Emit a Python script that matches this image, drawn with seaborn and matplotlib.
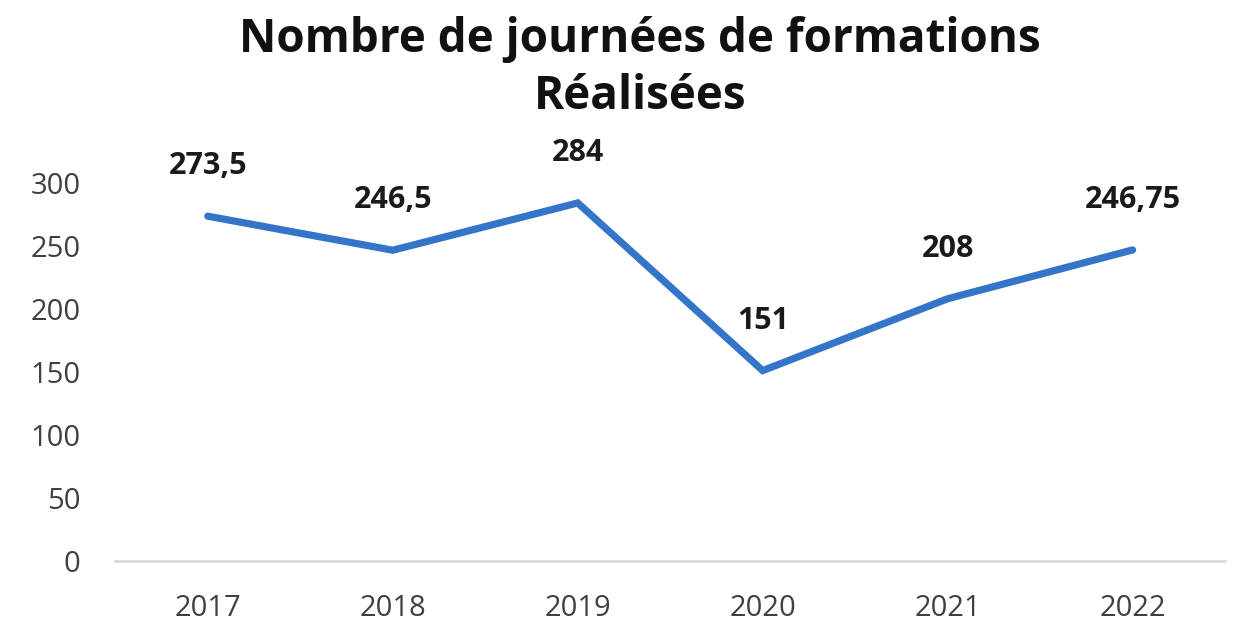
import matplotlib
matplotlib.use("Agg")
import matplotlib.pyplot as plt
import seaborn as sns
import pandas as pd

years = ["2017", "2018", "2019", "2020", "2021", "2022"]
values = [273.5, 246.5, 284, 151, 208, 246.75]
labels = ["273,5", "246,5", "284", "151", "208", "246,75"]
yticks = [0, 50, 100, 150, 200, 250, 300]

sns.set_theme(style="white")
plt.rcParams['font.family'] = ['Open Sans', 'DejaVu Sans']

df = pd.DataFrame({"year": years, "value": values})

fig = plt.figure(figsize=(12.4, 6.26), dpi=100)
ax = fig.add_axes([0.093, 0.104, 0.895, 0.604])
sns.lineplot(data=df, x="year", y="value", ax=ax, color="#3575C9", linewidth=5.2,
             sort=False, solid_capstyle="round", solid_joinstyle="miter")
ax.set_xlim(-0.5, 5.5)
ax.set_ylim(0, 300)
ax.set_yticks(yticks)
ax.set_xlabel("")
ax.set_ylabel("")
for s in ["top", "right", "left"]:
    ax.spines[s].set_visible(False)
ax.spines["bottom"].set_color("#D9D9D9")
ax.spines["bottom"].set_linewidth(2)
ax.tick_params(axis="both", length=0, labelsize=21, labelcolor="#404040")
ax.tick_params(axis="x", pad=24)
ax.tick_params(axis="y", pad=25)
ax.grid(False)

for i, (v, lab) in enumerate(zip(values, labels)):
    ax.annotate(lab, (i, v), xytext=(0, 36), textcoords="offset points",
                ha="center", va="center", fontsize=22, fontweight="bold",
                color="#1a1a1a", annotation_clip=False)

fig.suptitle("Nombre de journées de formations\nRéalisées", x=0.516, y=0.975,
             fontsize=33, fontweight="bold", color="#111111", linespacing=1.3)

fig.savefig("out.png", dpi=100, facecolor="white")
